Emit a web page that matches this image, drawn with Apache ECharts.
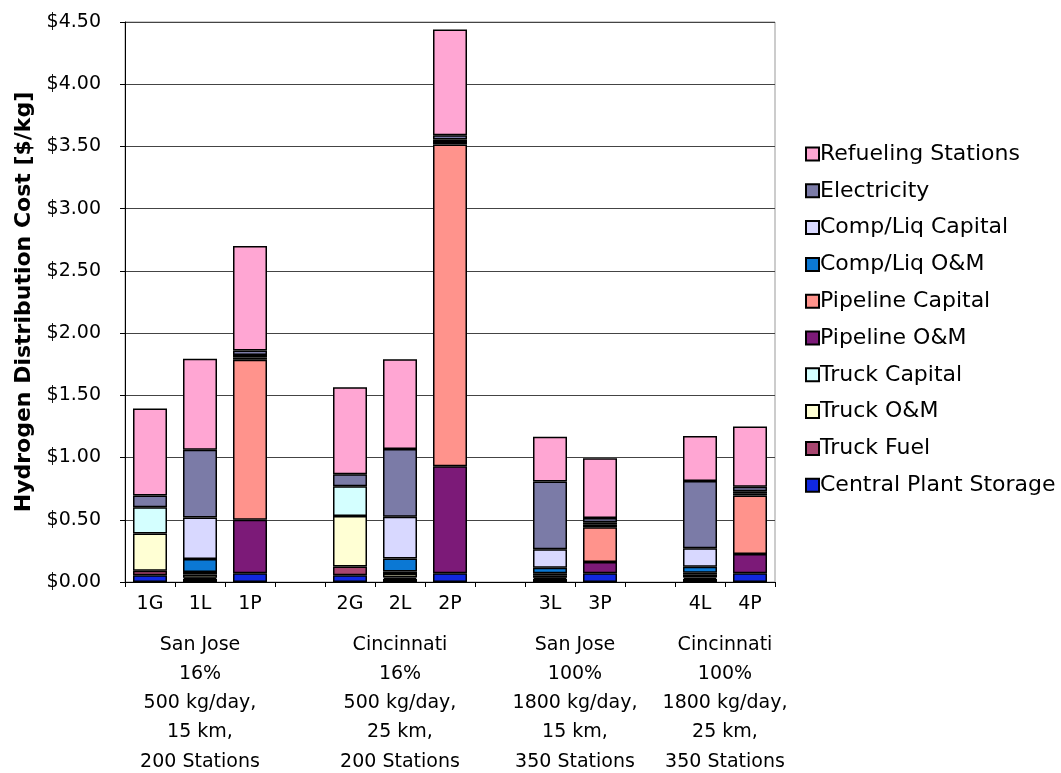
<!DOCTYPE html>
<html>
<head>
<meta charset="utf-8">
<script src="https://cdn.jsdelivr.net/npm/echarts@6/dist/echarts.min.js"></script>
<style>
html,body{margin:0;padding:0;background:#fff;}
#c{width:1061px;height:773px;}
</style>
</head>
<body>
<div id="c"></div>
<script>
// Categories (empty strings are the gaps between scenario groups)
var categories = ['1G','1L','1P','','2G','2L','2P','','3L','3P','','4L','4P'];

// Group label lines, centered under each group (position in category units)
var groupCenters = [1, 5, 8.5, 11.5];
var groupCity = ['San Jose','Cincinnati','San Jose','Cincinnati'];
var groupShare = ['16%','16%','100%','100%'];
var groupDemand = ['500 kg/day,','500 kg/day,','1800 kg/day,','1800 kg/day,'];
var groupDistance = ['15 km,','25 km,','15 km,','25 km,'];
var groupStations = ['200 Stations','200 Stations','350 Stations','350 Stations'];

// Y-axis ticks
var yTicks = [0, 0.5, 1, 1.5, 2, 2.5, 3, 3.5, 4, 4.5];

// Series values ($/kg), stacking order bottom -> top
var centralPlantStorage = [0.055, 0.025, 0.07, null, 0.055, 0.025, 0.07, null, 0.025, 0.07, null, 0.025, 0.07];
var truckFuel          = [0.035, 0.010, null, null, 0.070, 0.012, null, null, 0.010, null, null, 0.012, null];
var truckOM            = [0.300, 0.025, null, null, 0.405, 0.028, null, null, 0.020, null, null, 0.022, null];
var truckCapital       = [0.210, 0.020, null, null, 0.240, 0.020, null, null, 0.015, null, null, 0.016, null];
var pipelineOM         = [null, null, 0.430, null, null, null, 0.860, null, null, 0.090, null, null, 0.155];
var pipelineCapital    = [null, null, 1.285, null, null, null, 2.585, null, null, 0.280, null, null, 0.470];
var compLiqOM          = [null, 0.104, 0.020, null, null, 0.104, 0.020, null, 0.045, 0.020, null, 0.048, 0.015];
var compLiqCapital     = [null, 0.335, 0.020, null, null, 0.335, 0.020, null, 0.148, 0.020, null, 0.148, 0.020];
var electricity        = [0.095, 0.544, 0.035, null, 0.095, 0.544, 0.035, null, 0.545, 0.035, null, 0.541, 0.035];
var refuelingStations  = [0.700, 0.730, 0.840, null, 0.700, 0.722, 0.850, null, 0.360, 0.480, null, 0.362, 0.485];

var seriesNames = ['Central Plant Storage','Truck Fuel','Truck O&M','Truck Capital','Pipeline O&M',
  'Pipeline Capital','Comp/Liq O&M','Comp/Liq Capital','Electricity','Refueling Stations'];
var seriesData = [centralPlantStorage, truckFuel, truckOM, truckCapital, pipelineOM,
  pipelineCapital, compLiqOM, compLiqCapital, electricity, refuelingStations];
var seriesColors = ['#1028E0','#A84670','#FFFFD4','#D4FFFF','#7C1A78',
  '#FF938C','#0B78D4','#D8D8FF','#7B7BA7','#FFA6D3'];

var FONT = '"DejaVu Sans", "Liberation Sans", Arial, sans-serif';

var chart = echarts.init(document.getElementById('c'), null, {renderer:'canvas'});

var series = seriesNames.map(function(n, i){
  return {
    name: n, type: 'bar', stack: 'total', data: seriesData[i],
    barWidth: '68%',
    itemStyle: {color: seriesColors[i], borderColor: '#000', borderWidth: 1.5},
    emphasis: {disabled: true},
    animation: false
  };
});

var option = {
  animation: false,
  textStyle: {fontFamily: FONT},
  grid: {left: 125, right: 286, top: 22, bottom: 191, containLabel: false, outerBoundsMode: 'none',
    show: true, borderColor: '#999', borderWidth: 1, backgroundColor: 'transparent'},
  legend: {
    orient: 'vertical', left: 800, top: 138,
    data: seriesNames.slice().reverse(),
    icon: 'rect', itemWidth: 13, itemHeight: 13, itemGap: 14.8,
    textStyle: {fontFamily: FONT, fontSize: 22, color: '#000', lineHeight: 22, padding: [0,0,0,-4]},
    selectedMode: false
  },
  xAxis: [{
    type: 'category', data: categories,
    axisLine: {onZero: false, lineStyle: {color: '#000', width: 1}},
    axisTick: {show: true, length: 5, lineStyle: {color: '#000'}},
    axisLabel: {fontFamily: FONT, fontSize: 19, color: '#000', margin: 13, interval: 0},
    splitLine: {show: false}
  }, {
    type: 'value', min: -0.5, max: 12.5, position: 'bottom', offset: 48,
    axisLine: {show: false, onZero: false}, axisTick: {show: false}, splitLine: {show: false},
    axisLabel: {
      customValues: groupCenters, fontFamily: FONT, fontSize: 19, color: '#000', lineHeight: 29.3, margin: 0,
      formatter: function(v){
        var k = groupCenters.indexOf(v);
        if (k < 0) return '';
        return [groupCity[k], groupShare[k], groupDemand[k], groupDistance[k], groupStations[k]].join('\n');
      }
    }
  }],
  yAxis: {
    type: 'value', min: yTicks[0], max: yTicks[yTicks.length-1], interval: 0.5,
    name: 'Hydrogen Distribution Cost [$/kg]', nameLocation: 'middle', nameGap: 80,
    nameTextStyle: {fontFamily: FONT, fontSize: 22, fontWeight: 'bold', color: '#000'},
    axisLine: {show: true, onZero: false, lineStyle: {color: '#000'}},
    axisTick: {show: true, length: 5, inside: false, lineStyle: {color: '#000'}},
    axisLabel: {fontFamily: FONT, fontSize: 19, color: '#000', margin: 24,
      formatter: function(v){ return '$' + v.toFixed(2); }},
    splitLine: {show: true, lineStyle: {color: '#444', width: 1}}
  },
  series: series
};
chart.setOption(option);
</script>
</body>
</html>
